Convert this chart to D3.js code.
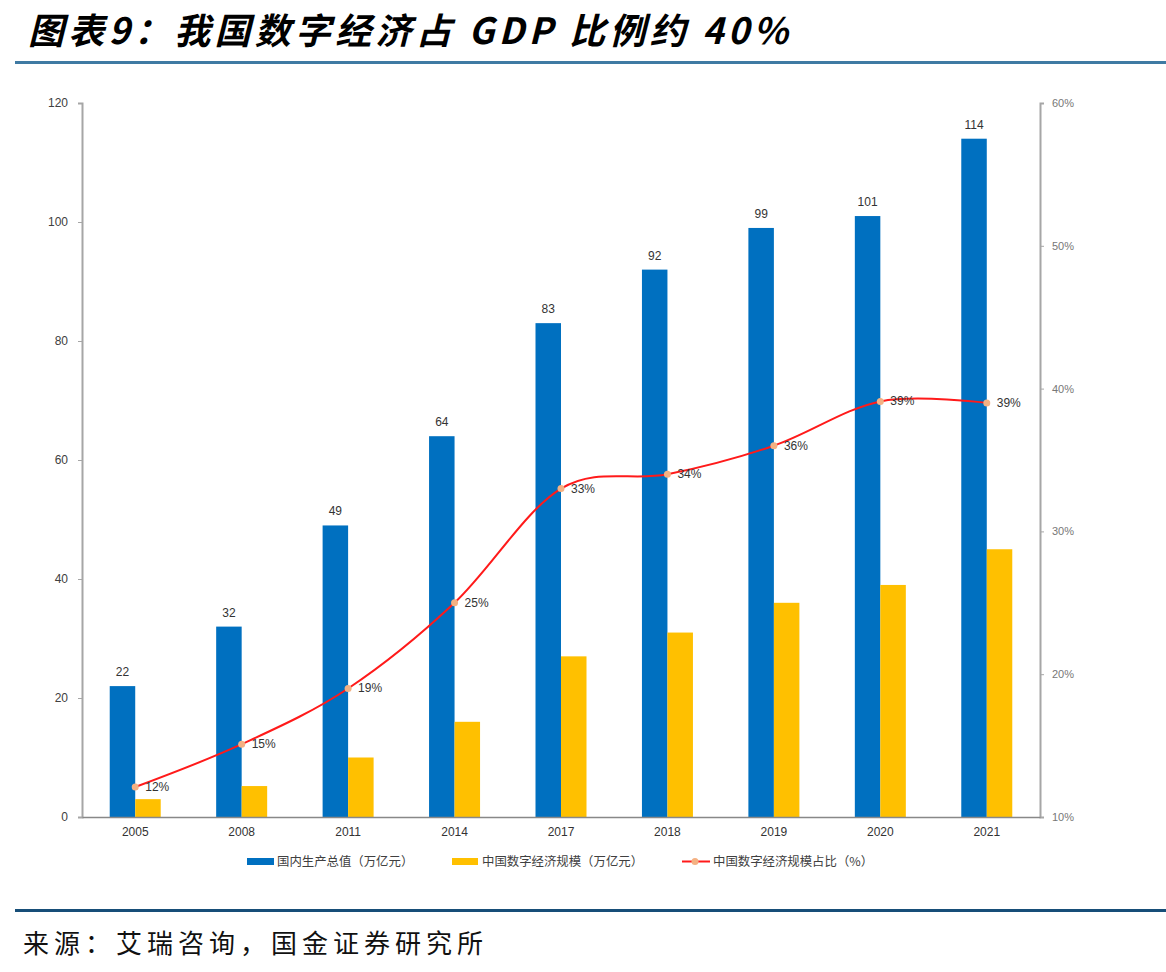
<!DOCTYPE html>
<html>
<head>
<meta charset="utf-8">
<script src="https://cdn.jsdelivr.net/npm/d3@7"></script>
<style>
  body { margin: 0; background: #fff; }
  svg { display: block; font-family: "Liberation Sans", Arial, sans-serif; }
</style>
</head>
<body>
<div id="chart"></div>
<script>
const years = ['2005', '2008', '2011', '2014', '2017', '2018', '2019', '2020', '2021'];
const gdp = [22, 32, 49, 64, 83, 92, 99, 101, 114];
const digital = [3, 5.2, 10, 16, 27, 31, 36, 39, 45];
const share = [12.1, 15.1, 19.0, 25.0, 33.0, 34.0, 36.0, 39.1, 39.0];
const shareLabels = ['12%', '15%', '19%', '25%', '33%', '34%', '36%', '39%', '39%'];
const leftTicks = [0, 20, 40, 60, 80, 100, 120];
const rightTicks = [10, 20, 30, 40, 50, 60];
const legendItems = ['国内生产总值（万亿元）', '中国数字经济规模（万亿元）', '中国数字经济规模占比（%）'];

const W = 1166, H = 972;
const plot = {left: 82, right: 1040, top: 103, bottom: 817};

const svg = d3.select('#chart').append('svg')
  .attr('width', W)
  .attr('height', H);

// title + rules
svg.append('text')
  .attr('x', 28)
  .attr('y', 44)
  .attr('font-family', '"Noto Sans CJK SC", sans-serif')
  .attr('font-size', 36)
  .attr('font-weight', 'bold')
  .attr('font-style', 'italic')
  .attr('fill', '#000')
  .attr('textLength', 760)
  .attr('lengthAdjust', 'spacing')
  .text('图表9：我国数字经济占 GDP 比例约 40%');

svg.append('rect').attr('x', 15).attr('y', 61).attr('width', W - 15).attr('height', 3).attr('fill', '#3f7aa3');
svg.append('rect').attr('x', 15).attr('y', 909).attr('width', W - 15).attr('height', 3).attr('fill', '#174e78');

svg.append('text')
  .attr('x', 23)
  .attr('y', 953)
  .attr('font-family', '"Noto Sans CJK SC", sans-serif')
  .attr('font-size', 26)
  .attr('letter-spacing', 5)
  .attr('fill', '#111')
  .text('来源：艾瑞咨询，国金证券研究所');

// scales
const x = d3.scaleBand()
  .domain(years)
  .range([plot.left, plot.right]);

const y = d3.scaleLinear()
  .domain([0, 120])
  .range([plot.bottom, plot.top]);

const y2 = d3.scaleLinear()
  .domain([10, 60])
  .range([plot.bottom, plot.top]);

const barW = 25.5;

// axes
const leftAxis = svg.append('g')
  .attr('transform', `translate(${plot.left},0)`)
  .call(d3.axisLeft(y).tickValues(leftTicks).tickSize(4).tickPadding(10));
leftAxis.select('.domain').attr('stroke', '#a6a6a6').attr('stroke-width', 2);
leftAxis.selectAll('.tick line').attr('stroke', '#a6a6a6');
leftAxis.selectAll('.tick text').attr('fill', '#404040').attr('font-size', 12);

const rightAxis = svg.append('g')
  .attr('transform', `translate(${plot.right},0)`)
  .call(d3.axisRight(y2).tickValues(rightTicks).tickSize(4).tickPadding(8).tickFormat(d => d + '%'));
rightAxis.select('.domain').attr('stroke', '#a6a6a6').attr('stroke-width', 2);
rightAxis.selectAll('.tick line').attr('stroke', '#a6a6a6');
rightAxis.selectAll('.tick text').attr('fill', '#777').attr('font-size', 11);

// bars
svg.append('g').selectAll('rect')
  .data(gdp)
  .enter().append('rect')
  .attr('x', (d, i) => x(years[i]) + x.bandwidth() / 2 - barW)
  .attr('y', d => y(d))
  .attr('width', barW)
  .attr('height', d => y(0) - y(d))
  .attr('fill', '#0070c0');

svg.append('g').selectAll('rect')
  .data(digital)
  .enter().append('rect')
  .attr('x', (d, i) => x(years[i]) + x.bandwidth() / 2)
  .attr('y', d => y(d))
  .attr('width', barW)
  .attr('height', d => y(0) - y(d))
  .attr('fill', '#ffc000');

svg.append('g').selectAll('text')
  .data(gdp)
  .enter().append('text')
  .attr('x', (d, i) => x(years[i]) + x.bandwidth() / 2 - barW / 2)
  .attr('y', d => y(d) - 10)
  .attr('text-anchor', 'middle')
  .attr('font-size', 12)
  .attr('fill', '#333')
  .text(d => d);

const xAxis = svg.append('g')
  .attr('transform', `translate(0,${plot.bottom})`)
  .call(d3.axisBottom(x).tickSize(0).tickPadding(10));
xAxis.select('.domain').attr('stroke', '#888').attr('stroke-width', 1.5);
xAxis.selectAll('.tick text').attr('fill', '#333').attr('font-size', 12);

// share line
const line = d3.line()
  .x((d, i) => x(years[i]) + x.bandwidth() / 2)
  .y(d => y2(d))
  .curve(d3.curveCardinal.tension(0));

svg.append('path')
  .datum(share)
  .attr('d', line)
  .attr('fill', 'none')
  .attr('stroke', '#ff1a1a')
  .attr('stroke-width', 2);

svg.append('g').selectAll('circle')
  .data(share)
  .enter().append('circle')
  .attr('cx', (d, i) => x(years[i]) + x.bandwidth() / 2)
  .attr('cy', d => y2(d))
  .attr('r', 3.5)
  .attr('fill', '#f4b183');

svg.append('g').selectAll('text')
  .data(share)
  .enter().append('text')
  .attr('x', (d, i) => x(years[i]) + x.bandwidth() / 2 + 10)
  .attr('y', d => y2(d) + 4)
  .attr('font-size', 12)
  .attr('fill', '#333')
  .text((d, i) => shareLabels[i]);

// legend
const legend = svg.append('g')
  .attr('font-family', '"Noto Sans CJK SC", sans-serif')
  .attr('font-size', 12.4)
  .attr('fill', '#404040');

legend.append('rect').attr('x', 247).attr('y', 858).attr('width', 27).attr('height', 7).attr('fill', '#0070c0');
legend.append('text').attr('x', 277).attr('y', 866).text(legendItems[0]);
legend.append('rect').attr('x', 452).attr('y', 858).attr('width', 26).attr('height', 7).attr('fill', '#ffc000');
legend.append('text').attr('x', 482).attr('y', 866).text(legendItems[1]);
legend.append('line').attr('x1', 682).attr('x2', 710).attr('y1', 861.5).attr('y2', 861.5)
  .attr('stroke', '#ff1a1a').attr('stroke-width', 2);
legend.append('circle').attr('cx', 695).attr('cy', 861.5).attr('r', 3.5).attr('fill', '#f4b183');
legend.append('text').attr('x', 713).attr('y', 866).text(legendItems[2]);
</script>
</body>
</html>
